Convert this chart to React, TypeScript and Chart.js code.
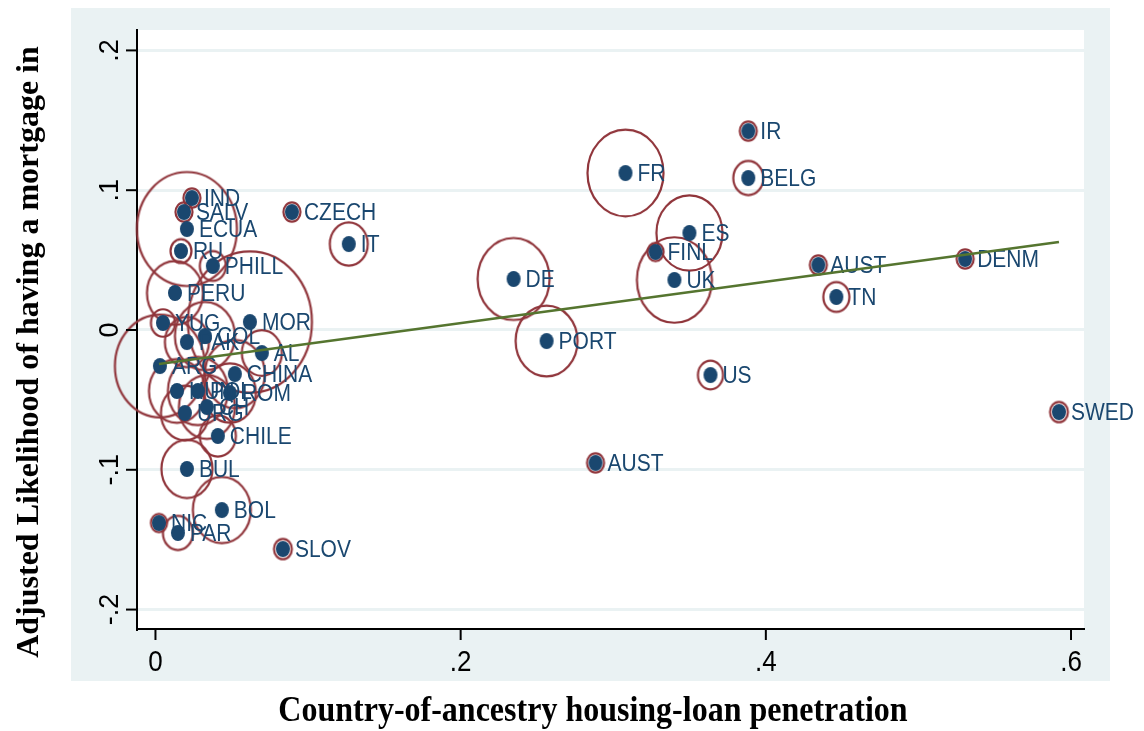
import React, { useEffect, useRef } from "react";
import { Chart, registerables } from "chart.js";
Chart.register(...registerables);

// ---------------- DATA ----------------
const countries = [
  "IR", "BELG", "FR", "ES", "FINL", "UK", "DE", "PORT", "US", "AUST",
  "TN", "DENM", "SWED", "AUST", "CZECH", "IT", "SLOV", "IND", "SALV", "ECUA",
  "RU", "PHILL", "PERU", "MOR", "YUG", "PAK", "COL", "AL", "ARG", "CHINA",
  "HUN", "POL", "ROM", "CH", "URG", "CHILE", "BUL", "BOL", "NIC", "PAR",
];
const loanPenetration = [
  0.3885, 0.3885, 0.3080, 0.3499, 0.3277, 0.3401, 0.2347, 0.2563, 0.3637, 0.4344,
  0.4462, 0.5306, 0.5921, 0.2884, 0.0894, 0.1267, 0.0835, 0.0239, 0.0187, 0.0206,
  0.0167, 0.0376, 0.0128, 0.0619, 0.0049, 0.0206, 0.0324, 0.0697, 0.0029, 0.0520,
  0.0141, 0.0278, 0.0488, 0.0337, 0.0193, 0.0409, 0.0206, 0.0435, 0.0023, 0.0147,
];
const adjLikelihood = [
  0.1423, 0.1087, 0.1123, 0.0694, 0.0558, 0.0358, 0.0365, -0.0079, -0.0322, 0.0465,
  0.0236, 0.0508, -0.0587, -0.0951, 0.0844, 0.0615, -0.1567, 0.0944, 0.0844, 0.0722,
  0.0565, 0.0458, 0.0265, 0.0057, 0.0050, -0.0086, -0.0043, -0.0165, -0.0258, -0.0315,
  -0.0436, -0.0436, -0.0451, -0.0551, -0.0594, -0.0758, -0.0994, -0.1288, -0.1381, -0.1452,
];
// bubble weights (circle area proportional to weight)
const sampleWeight = [
  2.9, 9.0, 57.8, 43.6, 2.6, 56.3, 51.8, 38.4, 6.3, 2.9,
  6.8, 2.9, 3.2, 2.9, 2.9, 14.4, 3.2, 2.9, 2.9, 100.0,
  4.4, 6.8, 31.4, 153.8, 5.8, 19.4, 36.0, 16.0, 81.0, 36.0,
  31.4, 36.0, 27.0, 31.4, 23.0, 13.0, 26.0, 33.6, 2.6, 9.0,
];
// fitted line endpoints
const fitX = [0.0023, 0.5921];
const fitY = [-0.0243, 0.063];

const xTicks = [0, 0.2, 0.4, 0.6];
const xTickLabels = ["0", ".2", ".4", ".6"];
const yTicks = [-0.2, -0.1, 0, 0.1, 0.2];
const yTickLabels = ["-.2", "-.1", "0", ".1", ".2"];
const xTitle = "Country-of-ancestry housing-loan penetration";
const yTitle = "Adjusted Likelihood of having a mortgage in";

// ---------------- STYLE ----------------
const W = 1144;
const H = 731;
const STRETCH = 1.14;
const NAVY = "#1A476F";
const RED = "#90353B";
const GREEN = "#55752F";
const PANEL = "#EAF2F3";
const BUBBLE_K = 5;
const DOT_R = 7;

function mkEllipse(rx: number, fill: string | null, stroke: string | null, lw: number) {
  const ry = rx * STRETCH;
  const pad = lw + 2;
  const c = document.createElement("canvas");
  c.width = Math.ceil(2 * rx + 2 * pad);
  c.height = Math.ceil(2 * ry + 2 * pad);
  const g = c.getContext("2d")!;
  g.beginPath();
  g.ellipse(c.width / 2, c.height / 2, rx, ry, 0, 0, Math.PI * 2);
  if (fill) {
    g.fillStyle = fill;
    g.fill();
  }
  if (stroke) {
    g.strokeStyle = stroke;
    g.lineWidth = lw;
    g.stroke();
  }
  return c;
}

function drawText(
  ctx: CanvasRenderingContext2D,
  text: string,
  x: number,
  y: number,
  font: string,
  color: string,
  align: CanvasTextAlign,
  baseline: CanvasTextBaseline,
  rot = 0,
  sy = 1
) {
  ctx.save();
  ctx.translate(x, y);
  ctx.scale(1, sy);
  if (rot) ctx.rotate(rot);
  ctx.font = font;
  ctx.fillStyle = color;
  ctx.textAlign = align;
  ctx.textBaseline = baseline;
  ctx.fillText(text, 0, 0);
  ctx.restore();
}

export default function App() {
  const ref = useRef<HTMLCanvasElement>(null);

  useEffect(() => {
    const canvas = ref.current!;
    const circleImgs = sampleWeight.map((w) => mkEllipse(BUBBLE_K * Math.sqrt(w), null, RED, 2.2));
    const dotImg = mkEllipse(DOT_R, NAVY, null, 0);

    const pts = countries.map((_, i) => ({ x: loanPenetration[i], y: adjLikelihood[i] }));
    const fitPts = fitX.map((x, i) => ({ x, y: fitY[i] }));

    const decor = {
      id: "decor",
      beforeDraw(chart: any) {
        const ctx = chart.ctx as CanvasRenderingContext2D;
        const a = chart.chartArea;
        ctx.save();
        ctx.fillStyle = "#fff";
        ctx.fillRect(0, 0, W, H);
        ctx.fillStyle = PANEL;
        ctx.fillRect(71, 8, 1110 - 71, 681 - 8);
        ctx.fillStyle = "#fff";
        ctx.fillRect(a.left, a.top, a.right - a.left, a.bottom - a.top);
        ctx.restore();
      },
      afterDatasetDraw(chart: any, args: any) {
        if (args.index !== 1) return;
        const ctx = chart.ctx as CanvasRenderingContext2D;
        const meta = chart.getDatasetMeta(1);
        meta.data.forEach((pt: any, i: number) => {
          drawText(ctx, countries[i], pt.x + 12, pt.y + 1, '21px "Liberation Sans", Arial, sans-serif', NAVY, "left", "middle", 0, STRETCH);
        });
      },
      afterDraw(chart: any) {
        const ctx = chart.ctx as CanvasRenderingContext2D;
        const a = chart.chartArea;
        const xs = chart.scales.x;
        const ys = chart.scales.y;
        ctx.save();
        ctx.strokeStyle = "#000";
        ctx.lineWidth = 2;
        yTicks.forEach((v, i) => {
          const py = ys.getPixelForValue(v);
          ctx.beginPath();
          ctx.moveTo(a.left - 11, py);
          ctx.lineTo(a.left, py);
          ctx.stroke();
          drawText(ctx, yTickLabels[i], 118, py, '27px "Liberation Sans", Arial, sans-serif', "#000", "center", "alphabetic", -Math.PI / 2, 1);
        });
        xTicks.forEach((v, i) => {
          const px = xs.getPixelForValue(v);
          ctx.beginPath();
          ctx.moveTo(px, a.bottom);
          ctx.lineTo(px, a.bottom + 11);
          ctx.stroke();
          drawText(ctx, xTickLabels[i], px, 663, '26px "Liberation Sans", Arial, sans-serif', "#000", "center", "middle", 0, STRETCH);
        });
        ctx.restore();
        drawText(ctx, xTitle, 593, 712, 'bold 32px "Liberation Serif", "Times New Roman", serif', "#000", "center", "middle", 0, STRETCH);
        drawText(ctx, yTitle, 30, 352, 'bold 32px "Liberation Serif", "Times New Roman", serif', "#000", "center", "middle", -Math.PI / 2, 1);
      },
    };

    const chart = new Chart(canvas, {
      type: "scatter",
      data: {
        datasets: [
          {
            label: "fit",
            data: fitPts,
            showLine: true,
            borderColor: GREEN,
            borderWidth: 2.5,
            pointRadius: 0,
            pointHoverRadius: 0,
            clip: false as any,
          } as any,
          {
            label: "dots",
            data: pts,
            pointStyle: dotImg as any,
            pointRadius: DOT_R,
            pointHoverRadius: DOT_R,
            clip: false as any,
          } as any,
          {
            label: "circles",
            data: pts,
            pointStyle: ((c: any) => circleImgs[c.dataIndex]) as any,
            pointRadius: ((c: any) => BUBBLE_K * Math.sqrt(sampleWeight[c.dataIndex])) as any,
            pointHoverRadius: ((c: any) => BUBBLE_K * Math.sqrt(sampleWeight[c.dataIndex])) as any,
            clip: false as any,
          } as any,
        ],
      },
      options: {
        animation: false,
        responsive: false,
        devicePixelRatio: 1,
        events: [],
        layout: { autoPadding: false, padding: { top: 30, right: W - 1084, left: 0, bottom: 0 } },
        plugins: { legend: { display: false }, tooltip: { enabled: false }, title: { display: false } },
        scales: {
          x: {
            type: "linear",
            min: -0.0121,
            max: 0.6085,
            grid: { display: false, drawTicks: false },
            border: { display: true, color: "#000", width: 2 },
            ticks: { display: false },
            afterBuildTicks: (s: any) => {
              s.ticks = xTicks.map((v) => ({ value: v }));
            },
            afterFit: (s: any) => {
              s.height = H - 629;
            },
          },
          y: {
            type: "linear",
            min: -0.2139,
            max: 0.2146,
            grid: { color: PANEL, lineWidth: 3, drawTicks: false },
            border: { display: true, color: "#000", width: 2 },
            ticks: { display: false },
            afterBuildTicks: (s: any) => {
              s.ticks = yTicks.map((v) => ({ value: v }));
            },
            afterFit: (s: any) => {
              s.width = 137;
            },
          },
        },
      } as any,
      plugins: [decor],
    });
    return () => chart.destroy();
  }, []);

  return (
    <div style={{ position: "fixed", left: 0, top: 0, width: W, height: H, background: "#fff" }}>
      <canvas ref={ref} width={W} height={H} style={{ display: "block", width: W, height: H }} />
    </div>
  );
}
